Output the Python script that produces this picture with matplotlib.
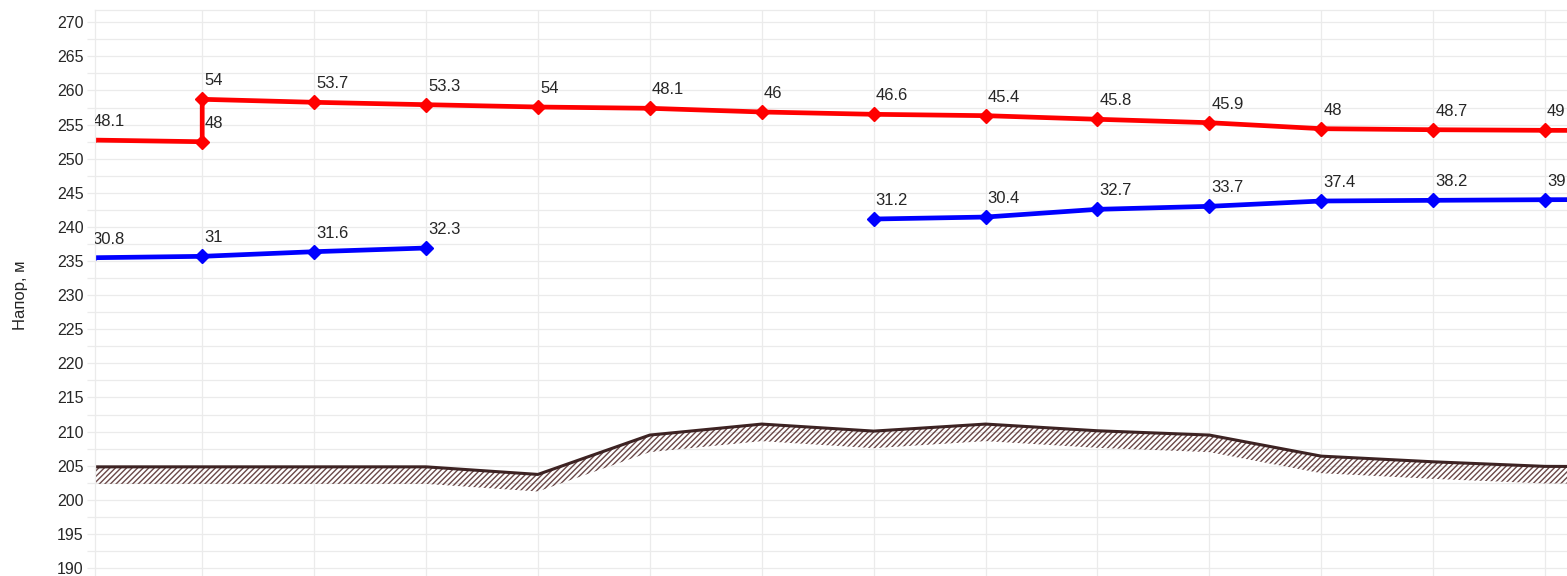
import numpy as np
import matplotlib.pyplot as plt

plt.rcParams['font.family'] = ['Liberation Sans', 'DejaVu Sans']
plt.rcParams['hatch.linewidth'] = 1.0

nan = np.nan

# Data .......................................................................
# Red line (head line 1), duplicated x at point 1 gives the vertical jump
x_red = [0, 1, 1, 2, 3, 4, 5, 6, 7, 8, 9, 10, 11, 12, 13, 14]
head_red = [252.74, 252.49, 258.71, 258.27, 257.92, 257.58, 257.39, 256.85,
            256.51, 256.31, 255.78, 255.28, 254.40, 254.25, 254.16, 254.12]
labels_red = ["48.1", "48", "54", "53.7", "53.3", "54", "48.1", "46",
              "46.6", "45.4", "45.8", "45.9", "48", "48.7", "49", ""]

# Blue line (head line 2), with a gap in the middle
x_blue = list(range(15))
head_blue = [235.48, 235.69, 236.37, 236.91, nan, nan, nan, 241.16,
             241.45, 242.58, 243.02, 243.80, 243.90, 243.99, 244.04]
labels_blue = ["30.8", "31", "31.6", "32.3", "", "", "", "31.2",
               "30.4", "32.7", "33.7", "37.4", "38.2", "39", ""]

# Ground profile
x_ground = list(range(15))
ground = [204.83, 204.83, 204.83, 204.83, 203.72, 209.49, 211.10, 210.07,
          211.10, 210.12, 209.49, 206.40, 205.57, 204.90, 204.85]

grid_color = "#ebebeb"
text_color = "#262626"

# Figure .....................................................................
fig = plt.figure(figsize=(15.67, 5.76), dpi=100)
ax = fig.add_axes([95 / 1567, 0, 1 - 95 / 1567, 566 / 576])

# Ground with hatched band below
g = np.array(ground)
ax.fill_between(x_ground, g - 2.5, g, facecolor="none", edgecolor="#6a4848",
                hatch="//////", linewidth=0)
ax.plot(x_ground, ground, color="#3d2323", lw=2.2, solid_joinstyle="round")

# Head lines
ax.plot(x_blue, head_blue, color="#0000ff", lw=3.4, marker="D", ms=7.5)
ax.plot(x_red, head_red, color="#ff0000", lw=3.4, marker="D", ms=7.5)

# Data labels (clipped by the plot area, like the first ones on the left)
for xs, ys, labs in [(x_red, head_red, labels_red), (x_blue, head_blue, labels_blue)]:
    for x, y, lab in zip(xs, ys, labs):
        if lab:
            ann = ax.annotate(lab, (x, y), xytext=(2, 11), textcoords="offset pixels",
                              ha="left", va="bottom", fontsize=12, color=text_color,
                              annotation_clip=False)
            ann.set_clip_path(ax.patch)
            ann.set_clip_on(True)

# Axes .......................................................................
ax.set_xlim(0.042, 13.196)
ax.set_ylim(188.83, 271.8)
ax.set_xticks(range(1, 14))
ax.set_yticks(np.arange(190, 271, 5))
ax.set_yticks(np.arange(190, 271, 2.5), minor=True)
ax.grid(True, which="both", color=grid_color, lw=0.9)
ax.set_axisbelow(True)
ax.tick_params(axis="y", which="both", length=5.8, width=0.9, color=grid_color,
               labelsize=11.5, labelcolor=text_color, pad=2.5)
ax.tick_params(axis="x", which="both", length=0, labelbottom=False)
for side in ["right", "bottom"]:
    ax.spines[side].set_visible(False)
for side in ["left", "top"]:
    ax.spines[side].set_color(grid_color)
    ax.spines[side].set_linewidth(0.9)

ax.set_ylabel("Напор, м", fontsize=12, color=text_color)
ax.yaxis.set_label_coords(-0.0455, 0.4965)

plt.savefig("out.png", dpi=100)
